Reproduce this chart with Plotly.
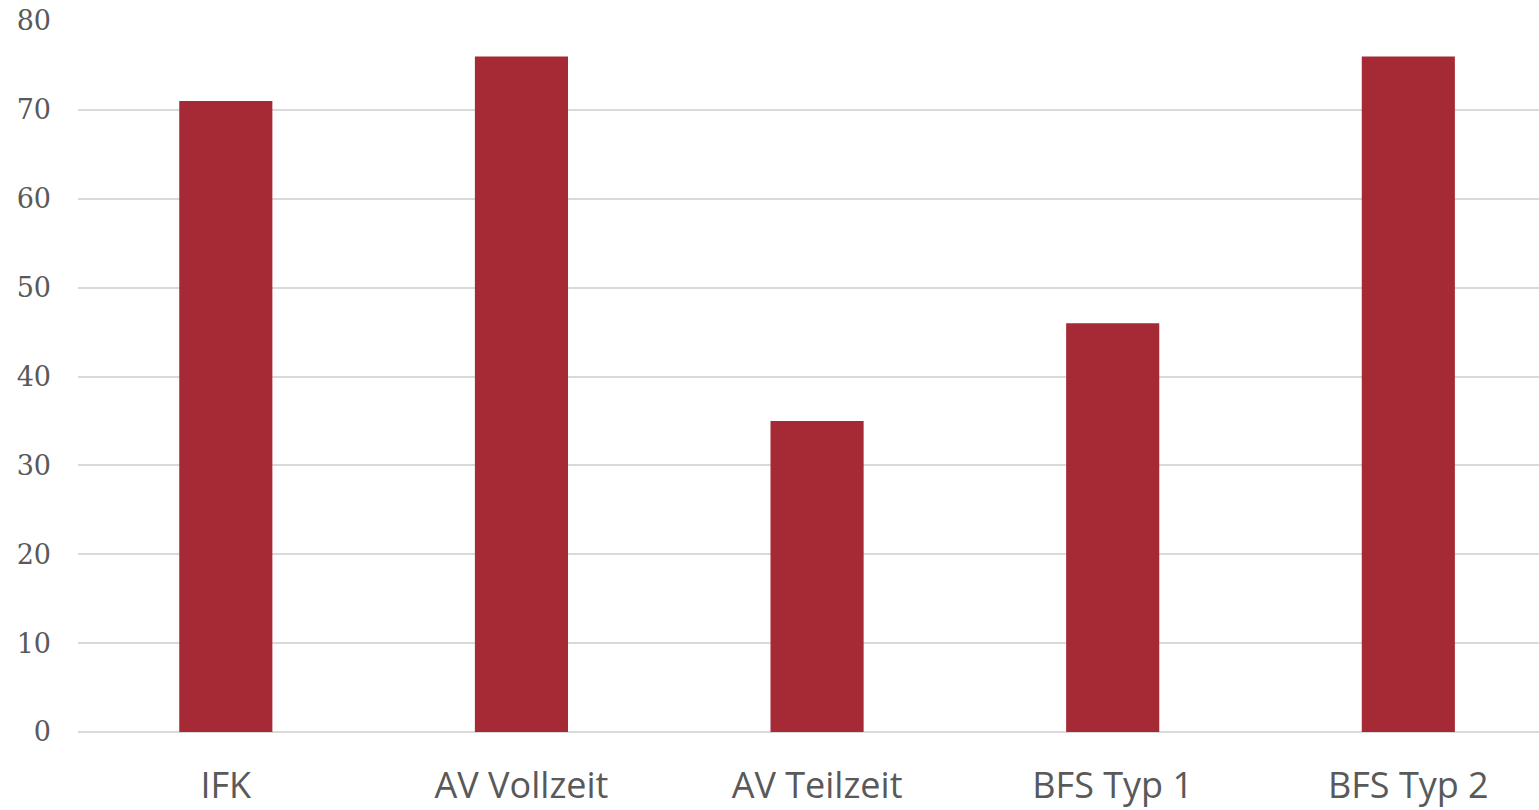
import plotly.graph_objects as go

categories = ["IFK", "AV Vollzeit", "AV Teilzeit", "BFS Typ 1", "BFS Typ 2"]
values = [71, 76, 35, 46, 76]
y_ticks = [0, 10, 20, 30, 40, 50, 60, 70, 80]

fig = go.Figure(go.Bar(
    x=categories, y=values, width=0.315,
    marker=dict(color="#A52A35", line=dict(width=0)),
))

fig.update_layout(
    width=1539, height=810,
    margin=dict(l=78, r=0, t=21, b=78),
    paper_bgcolor="white", plot_bgcolor="white",
    showlegend=False,
    xaxis=dict(
        range=[-0.5, 4.442], showgrid=False, showline=False, zeroline=False,
        tickfont=dict(family="Open Sans", size=36, color="#595959"),
        ticks="", ticklabelstandoff=29, automargin=False,
    ),
    yaxis=dict(
        range=[0, 80], tickvals=y_ticks, showgrid=True, gridcolor="#D9D9D9", gridwidth=2,
        zeroline=True, zerolinecolor="#D9D9D9", zerolinewidth=2, showline=False,
        tickfont=dict(family="DejaVu Serif", size=27, color="#595959"),
        ticks="", ticklabelstandoff=26, automargin=False,
    ),
)

fig.write_html(
    "out.html",
    config={"displayModeBar": False},
    post_script="document.body.style.margin='0';document.body.style.overflow='hidden';",
)
